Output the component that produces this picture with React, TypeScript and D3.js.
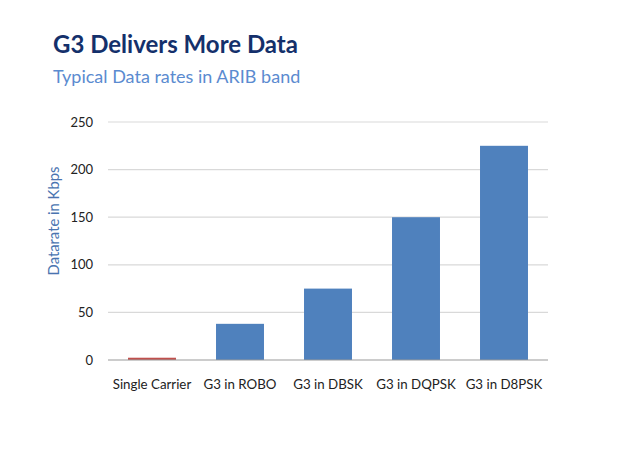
import React from "react";
import * as d3 from "d3";

const categories = ["Single Carrier", "G3 in ROBO", "G3 in DBSK", "G3 in DQPSK", "G3 in D8PSK"];
const values = [2.4, 38, 75, 150, 225];
const barColors = ["#C0504D", "#4F81BD", "#4F81BD", "#4F81BD", "#4F81BD"];
const yTicks = [0, 50, 100, 150, 200, 250];

export default function App() {
  const W = 640, H = 454;
  const left = 108, right = 548, top = 122, bottom = 360;
  const x = d3.scaleBand<string>().domain(categories).range([left, right]).paddingInner(0.455).paddingOuter(0.2275);
  const y = d3.scaleLinear().domain([0, 250]).range([bottom, top]);
  const font = "Lato, 'Open Sans', sans-serif";
  return (
    <svg width={W} height={H} style={{ position: "absolute", left: 0, top: 0, background: "#fff" }}>
      <text x={53} y={53} fontFamily={font} fontWeight="bold" fontSize={24} fill="#14306B">G3 Delivers More Data</text>
      <text x={53} y={83} fontFamily={font} fontSize={18} fill="#5B8BD0">Typical Data rates in ARIB band</text>
      {yTicks.map((t) => (
        <g key={t}>
          {t !== 0 && <line x1={left} x2={right} y1={y(t)} y2={y(t)} stroke="#D9D9D9" strokeWidth={1.2} />}
          <text x={93} y={y(t)} dy="0.35em" textAnchor="end" fontFamily={font} fontSize={13} fill="#222">{t}</text>
        </g>
      ))}
      {categories.map((c, i) => (
        <rect key={c} x={x(c)} width={x.bandwidth()} y={y(values[i])} height={y(0) - y(values[i])} fill={barColors[i]} />
      ))}
      <line x1={left} x2={right} y1={y(0)} y2={y(0)} stroke="#999" strokeWidth={1.2} />
      {categories.map((c) => (
        <text key={c} x={(x(c) as number) + x.bandwidth() / 2} y={389} textAnchor="middle" fontFamily={font} fontSize={13.3} fill="#222">{c}</text>
      ))}
      <text transform={`translate(59,221) rotate(-90)`} textAnchor="middle" fontFamily={font} fontSize={14.8} fill="#4A74B0">Datarate in Kbps</text>
    </svg>
  );
}
